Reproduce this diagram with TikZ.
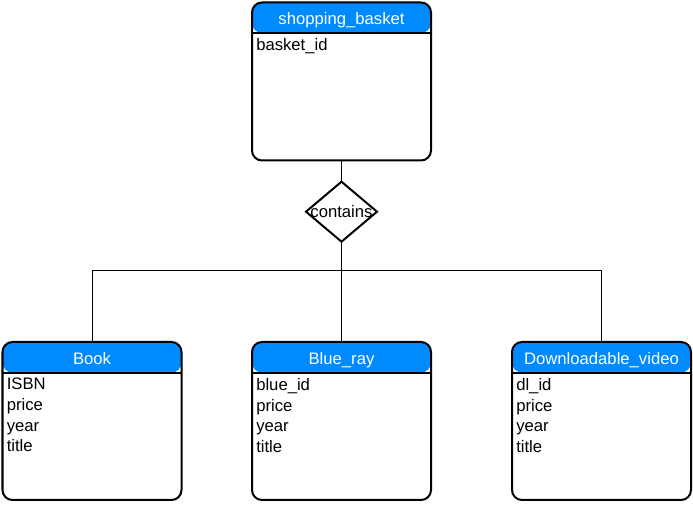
\documentclass[tikz,border=0pt]{standalone}
\usepackage{fontspec}
\setmainfont{Liberation Sans}
\usetikzlibrary{shapes.geometric}
\definecolor{headblue}{RGB}{0,138,255}
\begin{document}
\begin{tikzpicture}
    [x=0.75pt,y=-0.75pt,
    font=\fontsize{12.5}{15.5}\selectfont,
    entity/.style={draw, line width=1.5pt, rounded corners=7.5pt, outer sep=0pt,
      inner sep=0pt, anchor=north, minimum width=134.25pt, minimum height=118.5pt,
      path picture={
        \fill[headblue] (path picture bounding box.north west)
          rectangle ([yshift=-22.9pt]path picture bounding box.north east);
        \draw[line width=1.5pt] ([yshift=-22.9pt]path picture bounding box.north west)
          -- ([yshift=-22.9pt]path picture bounding box.north east);}},
    heading/.style={text=white, anchor=base, inner sep=0pt},
    attrs/.style={anchor=north west, align=left, inner sep=0pt},
    relation/.style={draw, diamond, line width=1.5pt, outer sep=0pt, inner sep=0pt,
      minimum width=53.25pt, minimum height=45pt},
    link/.style={line width=0.75pt}]
    \useasboundingbox (0,0) rectangle (693,505);
    % basket on top
    \node[entity] (basket) at (341.5,2.5) {};
    \node[heading] (basket-title) at (341.5,25) {shopping\_basket};
    \node[attrs] (basket-attrs) at (256,38) {basket\_id};
    % relationship
    \node[relation] (contains) at (341.5,211.7) {\makebox[0pt]{contains}};
    \coordinate (bus) at (341.5,270.7);
    % the three products
    \foreach \nm/\cx/\ttl/\key in {book/92/Book/ISBN, blueray/341.5/Blue\_ray/blue\_id,
      video/601.5/Downloadable\_video/dl\_id}{
      \node[entity] (\nm) at (\cx,342) {};
      \node[heading] (\nm-title) at (\cx,364.4) {\ttl};
      \node[attrs] (\nm-attrs) at (\cx-85.5,378) {\key\\price\\year\\title};
    }
    \draw[link] (basket.south) -- (contains.north);
    \draw[link] (contains.south) -- (blueray.north);
    \draw[link] (book.north) |- (bus) -| (video.north);
  \end{tikzpicture}
\end{document}
